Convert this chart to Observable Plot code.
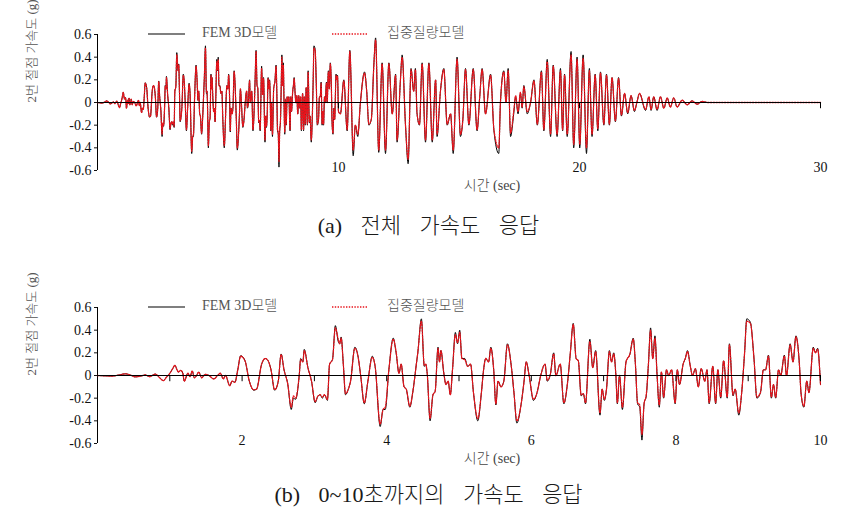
<!DOCTYPE html>
<html><head><meta charset="utf-8">
<script src="https://cdn.jsdelivr.net/npm/d3@7"></script>
<script src="https://cdn.jsdelivr.net/npm/@observablehq/plot@0.6"></script>
<style>
body{margin:0;background:#fff;width:857px;height:513px;position:relative;overflow:hidden;font-family:"Liberation Serif","Noto Sans CJK KR",serif;}
.abs{position:absolute;}
.cap{position:absolute;left:0;width:857px;text-align:center;font-size:22px;line-height:26px;color:#1a1a1a;white-space:pre;word-spacing:13px;font-weight:300;}
.leg{position:absolute;font-size:14px;line-height:16px;color:#555;white-space:nowrap;font-weight:300;}
</style></head><body>
<div id="pa" class="abs" style="left:0;top:0;width:857px;height:200px"></div>
<div class="cap" style="top:213px">(a) 전체 가속도 응답</div>
<div id="pb" class="abs" style="left:0;top:273px;width:857px;height:200px"></div>
<div class="cap" style="top:482px">(b) 0~10초까지의 가속도 응답</div>
<script>
// ---- data (time in sec, acceleration in g) ----
const time = [
  0.00, 0.10, 0.20, 0.30, 0.39, 0.45, 0.52, 0.60, 0.66, 0.72,
  0.80, 0.86, 0.91, 0.96, 0.99, 1.04, 1.07, 1.10, 1.12, 1.15,
  1.18, 1.20, 1.25, 1.28, 1.31, 1.34, 1.37, 1.40, 1.44, 1.49,
  1.54, 1.61, 1.66, 1.70, 1.74, 1.77, 1.83, 1.86, 1.90, 1.94,
  1.98, 2.04, 2.10, 2.16, 2.20, 2.27, 2.32, 2.36, 2.40, 2.45,
  2.50, 2.54, 2.58, 2.63, 2.68, 2.71, 2.74, 2.79, 2.81, 2.84,
  2.86, 2.91, 2.96, 3.01, 3.05, 3.08, 3.11, 3.14, 3.18, 3.21,
  3.25, 3.29, 3.33, 3.35, 3.37, 3.40, 3.43, 3.47, 3.50, 3.56,
  3.60, 3.64, 3.69, 3.74, 3.80, 3.84, 3.91, 3.95, 3.98, 4.03,
  4.09, 4.13, 4.17, 4.20, 4.24, 4.27, 4.32, 4.36, 4.41, 4.43,
  4.48, 4.52, 4.54, 4.56, 4.60, 4.64, 4.67, 4.71, 4.73, 4.75,
  4.79, 4.82, 4.85, 4.88, 4.91, 4.95, 4.98, 5.01, 5.04, 5.08,
  5.12, 5.16, 5.20, 5.26, 5.31, 5.34, 5.37, 5.41, 5.44, 5.48,
  5.51, 5.54, 5.58, 5.62, 5.67, 5.72, 5.76, 5.80, 5.86, 5.90,
  5.93, 5.97, 6.03, 6.08, 6.13, 6.19, 6.22, 6.26, 6.31, 6.34,
  6.40, 6.45, 6.50, 6.54, 6.58, 6.62, 6.65, 6.69, 6.72, 6.75,
  6.81, 6.85, 6.89, 6.95, 6.98, 7.01, 7.04, 7.08, 7.11, 7.14,
  7.17, 7.19, 7.22, 7.26, 7.31, 7.33, 7.36, 7.41, 7.44, 7.47,
  7.50, 7.53, 7.56, 7.59, 7.62, 7.65, 7.68, 7.71, 7.74, 7.77,
  7.80, 7.83, 7.87, 7.90, 7.94, 7.99, 8.02, 8.05, 8.10, 8.13,
  8.16, 8.20, 8.23, 8.27, 8.31, 8.35, 8.40, 8.43, 8.46, 8.51,
  8.55, 8.58, 8.62, 8.66, 8.71, 8.74, 8.79, 8.82, 8.87, 8.91,
  8.95, 8.98, 9.03, 9.08, 9.12, 9.17, 9.21, 9.24, 9.28, 9.32,
  9.35, 9.38, 9.42, 9.45, 9.50, 9.53, 9.58, 9.62, 9.66, 9.71,
  9.73, 9.77, 9.81, 9.84, 9.90, 9.93, 9.96, 10.00, 10.08, 10.22,
  10.36, 10.47, 10.61, 10.70, 10.80, 10.91, 11.08, 11.17, 11.26, 11.36,
  11.47, 11.54, 11.67, 11.81, 11.95, 12.09, 12.23, 12.37, 12.43, 12.57,
  12.64, 12.78, 12.89, 13.01, 13.12, 13.19, 13.26, 13.36, 13.47, 13.61,
  13.75, 13.89, 14.03, 14.09, 14.23, 14.37, 14.51, 14.65, 14.76, 14.92,
  15.06, 15.16, 15.27, 15.41, 15.59, 15.75, 15.86, 15.96, 16.10, 16.31,
  16.45, 16.65, 16.72, 16.86, 16.95, 17.04, 17.14, 17.27, 17.35, 17.45,
  17.55, 17.62, 17.69, 17.83, 17.97, 18.11, 18.25, 18.42, 18.52, 18.66,
  18.80, 18.91, 19.07, 19.21, 19.30, 19.38, 19.49, 19.65, 19.76, 19.90,
  20.01, 20.15, 20.29, 20.41, 20.52, 20.65, 20.76, 20.87, 21.01, 21.12,
  21.24, 21.35, 21.49, 21.62, 21.74, 21.87, 22.00, 22.14, 22.28, 22.38,
  22.49, 22.74, 22.88, 22.97, 23.08, 23.22, 23.36, 23.50, 23.64, 23.77,
  23.91, 24.05, 24.26, 24.47, 24.67, 24.88, 25.09, 25.30, 26.00, 27.00,
  28.00, 29.00, 30.00
];
// FEM 3D model (black solid)
const femAccel = [
  0.000, -0.003, -0.005, 0.005, 0.015, 0.005, -0.012, -0.005, 0.005, -0.010,
  0.012, -0.020, -0.045, -0.010, 0.010, 0.060, 0.090, 0.050, 0.030, 0.045,
  0.020, -0.050, 0.020, -0.010, 0.040, -0.020, 0.000, 0.030, -0.020, 0.010,
  0.000, -0.030, 0.000, 0.020, -0.030, 0.000, -0.090, -0.050, -0.060, 0.050,
  0.175, 0.130, -0.050, -0.130, -0.120, 0.100, 0.150, 0.130, 0.050, -0.130,
  -0.050, 0.190, 0.050, -0.070, -0.300, -0.200, -0.210, 0.000, 0.150, 0.120,
  0.230, 0.070, -0.050, -0.240, -0.180, -0.170, -0.200, -0.170, -0.220, 0.100,
  0.140, 0.440, 0.300, 0.280, 0.340, 0.100, -0.170, -0.120, -0.050, 0.250,
  0.180, 0.000, -0.250, -0.050, 0.170, 0.080, -0.450, -0.300, -0.300, 0.050,
  0.330, 0.200, 0.020, 0.100, -0.100, -0.120, -0.280, -0.150, 0.100, 0.200,
  0.500, 0.080, 0.100, 0.020, -0.400, -0.170, -0.140, 0.250, 0.120, 0.220,
  0.020, -0.080, -0.050, -0.170, 0.050, 0.380, 0.280, 0.400, 0.150, 0.150,
  0.080, 0.100, -0.150, -0.400, -0.150, 0.050, 0.150, 0.120, 0.250, 0.050,
  -0.260, -0.050, -0.100, -0.050, 0.280, 0.100, -0.150, -0.420, -0.250, -0.050,
  0.120, 0.000, -0.220, -0.150, 0.000, 0.100, -0.050, 0.000, 0.200, 0.000,
  0.100, -0.250, -0.070, 0.200, 0.460, 0.150, 0.130, -0.180, -0.160, -0.250,
  0.320, 0.070, 0.220, -0.350, -0.120, -0.220, -0.120, 0.220, 0.120, 0.200,
  0.000, -0.250, 0.000, -0.300, 0.120, 0.150, 0.180, 0.330, 0.100, -0.250,
  -0.280, -0.570, -0.250, -0.180, 0.100, 0.420, 0.150, 0.350, 0.000, -0.280,
  0.030, -0.200, 0.050, 0.000, 0.050, -0.250, 0.050, -0.080, 0.100, 0.150,
  0.220, 0.080, 0.000, 0.060, -0.100, 0.060, -0.050, 0.050, -0.250, 0.080,
  -0.250, 0.050, -0.200, 0.130, -0.200, 0.280, -0.180, -0.120, -0.350, -0.150,
  0.200, 0.500, 0.470, 0.150, -0.200, -0.150, 0.050, 0.050, 0.180, -0.200,
  -0.080, -0.200, 0.050, 0.000, 0.180, 0.000, 0.280, 0.120, 0.350, 0.080,
  -0.150, -0.280, -0.050, -0.150, 0.250, 0.200, 0.240, -0.080, -0.100, 0.200,
  -0.250, 0.460, -0.470, -0.200, -0.300, 0.000, 0.270, 0.100, -0.200, -0.150,
  0.350, 0.570, -0.440, 0.350, -0.450, 0.350, -0.100, 0.250, -0.350, 0.200,
  0.420, -0.200, -0.540, 0.300, 0.100, 0.300, -0.100, -0.200, 0.350, -0.350,
  0.350, -0.350, 0.200, -0.300, 0.100, 0.300, -0.200, -0.100, -0.450, 0.400,
  -0.300, -0.150, 0.300, -0.200, 0.300, -0.250, 0.050, 0.300, -0.100, 0.250,
  -0.250, -0.450, 0.000, 0.280, 0.000, 0.300, -0.300, -0.100, 0.050, -0.100,
  0.080, -0.050, 0.150, -0.100, 0.000, 0.200, -0.200, 0.280, -0.250, 0.380,
  -0.300, 0.330, -0.300, 0.300, -0.250, 0.250, -0.300, 0.450, -0.400, 0.400,
  -0.400, 0.420, -0.450, 0.300, -0.300, 0.250, -0.250, 0.270, -0.200, 0.250,
  -0.200, 0.220, -0.170, 0.220, -0.120, 0.080, -0.100, 0.060, -0.080, 0.000,
  0.080, -0.070, 0.050, -0.070, 0.050, -0.070, 0.050, -0.050, 0.040, -0.040,
  0.040, -0.040, 0.020, -0.020, 0.015, -0.015, 0.010, 0.000, 0.000, 0.000,
  0.000, 0.000, 0.000
];
// Lumped-mass model (red dotted)
const lumpedAccel = [
  0.000, -0.003, -0.005, 0.005, 0.015, 0.005, -0.012, -0.005, 0.005, -0.010,
  0.012, -0.020, -0.045, -0.010, 0.010, 0.060, 0.090, 0.050, 0.030, 0.045,
  0.020, -0.050, 0.020, -0.010, 0.040, -0.020, 0.000, 0.030, -0.020, 0.010,
  0.000, -0.030, 0.000, 0.020, -0.030, 0.000, -0.090, -0.050, -0.060, 0.050,
  0.170, 0.130, -0.050, -0.125, -0.120, 0.100, 0.150, 0.130, 0.050, -0.125,
  -0.050, 0.185, 0.050, -0.070, -0.280, -0.180, -0.200, 0.000, 0.140, 0.120,
  0.220, 0.070, -0.050, -0.230, -0.180, -0.170, -0.190, -0.170, -0.210, 0.100,
  0.140, 0.420, 0.320, 0.280, 0.330, 0.100, -0.160, -0.120, -0.050, 0.240,
  0.180, 0.000, -0.240, -0.050, 0.160, 0.080, -0.430, -0.300, -0.280, 0.050,
  0.320, 0.210, 0.020, 0.100, -0.100, -0.120, -0.270, -0.150, 0.100, 0.200,
  0.480, 0.090, 0.100, 0.020, -0.380, -0.170, -0.140, 0.240, 0.120, 0.220,
  0.020, -0.080, -0.050, -0.170, 0.050, 0.360, 0.290, 0.380, 0.150, 0.140,
  0.080, 0.100, -0.150, -0.380, -0.150, 0.050, 0.150, 0.120, 0.240, 0.050,
  -0.250, -0.050, -0.100, -0.050, 0.270, 0.100, -0.150, -0.400, -0.250, -0.050,
  0.120, 0.000, -0.210, -0.150, 0.000, 0.100, -0.040, 0.000, 0.190, 0.000,
  0.100, -0.240, -0.070, 0.200, 0.450, 0.150, 0.130, -0.170, -0.160, -0.240,
  0.300, 0.070, 0.210, -0.330, -0.120, -0.210, -0.120, 0.210, 0.120, 0.190,
  0.000, -0.240, 0.000, -0.280, 0.120, 0.150, 0.180, 0.320, 0.100, -0.240,
  -0.260, -0.520, -0.250, -0.170, 0.100, 0.400, 0.150, 0.330, 0.000, -0.260,
  0.030, -0.190, 0.050, 0.000, 0.050, -0.240, 0.050, -0.080, 0.100, 0.150,
  0.210, 0.080, 0.000, 0.060, -0.100, 0.060, -0.050, 0.050, -0.240, 0.080,
  -0.240, 0.050, -0.190, 0.130, -0.190, 0.270, -0.170, -0.120, -0.330, -0.150,
  0.200, 0.480, 0.460, 0.150, -0.190, -0.150, 0.050, 0.050, 0.170, -0.190,
  -0.080, -0.190, 0.050, 0.000, 0.170, 0.000, 0.270, 0.120, 0.340, 0.080,
  -0.150, -0.270, -0.050, -0.150, 0.240, 0.200, 0.230, -0.080, -0.100, 0.190,
  -0.240, 0.450, -0.420, -0.200, -0.280, 0.000, 0.260, 0.100, -0.190, -0.150,
  0.340, 0.550, -0.420, 0.340, -0.420, 0.340, -0.100, 0.240, -0.330, 0.200,
  0.400, -0.200, -0.500, 0.290, 0.100, 0.290, -0.100, -0.190, 0.340, -0.330,
  0.340, -0.330, 0.200, -0.280, 0.100, 0.290, -0.190, -0.100, -0.420, 0.380,
  -0.280, -0.150, 0.290, -0.190, 0.290, -0.240, 0.050, 0.290, -0.100, 0.240,
  -0.240, -0.400, 0.000, 0.270, 0.000, 0.280, -0.270, -0.080, 0.060, -0.080,
  0.090, -0.040, 0.140, -0.080, 0.000, 0.190, -0.190, 0.270, -0.240, 0.360,
  -0.280, 0.320, -0.280, 0.280, -0.240, 0.240, -0.280, 0.420, -0.370, 0.380,
  -0.370, 0.390, -0.400, 0.280, -0.280, 0.240, -0.230, 0.260, -0.190, 0.240,
  -0.190, 0.220, -0.160, 0.210, -0.110, 0.080, -0.090, 0.060, -0.070, 0.000,
  0.080, -0.060, 0.050, -0.060, 0.050, -0.060, 0.050, -0.050, 0.040, -0.040,
  0.040, -0.040, 0.020, -0.020, 0.015, -0.015, 0.010, 0.000, 0.000, 0.000,
  0.000, 0.000, 0.000
];
const seriesNames = ["FEM 3D모델", "집중질량모델"];
const yTicks = [-0.6, -0.4, -0.2, 0, 0.2, 0.4, 0.6];
const xLabelsA = [10, 20, 30];
const xTicksA = [10, 20, 30];
const xLabelsB = [2, 4, 6, 8, 10];
const xTicksB = [1, 2, 3, 4, 5, 6, 7, 8, 9, 10];
const yTitle = "2번 절점 가속도 (g)";
const xTitle = "시간 (sec)";

const FONT = '"Liberation Serif","Noto Sans CJK KR",serif';
const rowsAll = time.map((t, i) => ({t, fem: femAccel[i], lumped: lumpedAccel[i]}));

function panel(xMax, xLabels, xTicks) {
  const rows = rowsAll.filter(d => d.t <= xMax + 1e-9);
  return Plot.plot({
    width: 857, height: 200,
    marginLeft: 97, marginRight: 37, marginTop: 34, marginBottom: 30,
    style: {fontFamily: FONT, fontSize: "14px", color: "#111", background: "transparent", overflow: "visible"},
    x: {domain: [0, xMax]},
    y: {domain: [-0.6, 0.6]},
    marks: [
      Plot.axisY({ticks: yTicks, tickSize: 3, tickPadding: 3, tickFormat: d => d === 0 ? "0" : d.toFixed(1), label: null, fontSize: 14, fill: "#111"}),
      Plot.axisX({ticks: xLabels, tickSize: 0, tickPadding: 0, dy: -8, label: null, fontSize: 14, fill: "#111"}),
      Plot.ruleX([0], {stroke: "#000", strokeWidth: 1}),
      Plot.line(rows, {x: "t", y: "fem", stroke: "#000", strokeWidth: 1, curve: "monotone-x"}),
      Plot.line(rows, {x: "t", y: "lumped", stroke: "#e8141c", strokeWidth: 1.3, strokeDasharray: "1.4,1.4", curve: "monotone-x"}),
      Plot.ruleY([0], {stroke: "#000", strokeWidth: 1.2}),
      Plot.ruleX(xTicks, {x: d => d, y1: 0, y2: -0.055, stroke: "#000", strokeWidth: 1}),
      Plot.text([yTitle], {frameAnchor: "left", rotate: -90, dx: -66, fill: "#555", fontSize: 13, fontWeight: 300, fontFamily: FONT}),
      Plot.text([xTitle], {frameAnchor: "bottom", dx: 33, dy: 19, fill: "#444", fontSize: 14, fontWeight: 300, fontFamily: FONT})
    ]
  });
}

function addLegend(container) {
  const items = [
    {x1: 148, x2: 185, tx: 202, color: "#000", dash: null, w: 1.2, name: seriesNames[0]},
    {x1: 332, x2: 368, tx: 387, color: "#e8141c", dash: "1.4,1.4", w: 1.3, name: seriesNames[1]}
  ];
  items.forEach(it => {
    const s = d3.select(container).append("svg")
      .style("position", "absolute").style("left", it.x1 + "px").style("top", "30px")
      .attr("width", it.x2 - it.x1).attr("height", 8);
    s.append("line").attr("x1", 0).attr("x2", it.x2 - it.x1).attr("y1", 4).attr("y2", 4)
      .attr("stroke", it.color).attr("stroke-width", it.w).attr("stroke-dasharray", it.dash);
    d3.select(container).append("div").attr("class", "leg")
      .style("left", it.tx + "px").style("top", "25px").text(it.name);
  });
}

const pa = document.getElementById("pa");
pa.appendChild(panel(30, xLabelsA, xTicksA));
addLegend(pa);
const pb = document.getElementById("pb");
pb.appendChild(panel(10, xLabelsB, xTicksB));
addLegend(pb);
</script>
</body></html>
